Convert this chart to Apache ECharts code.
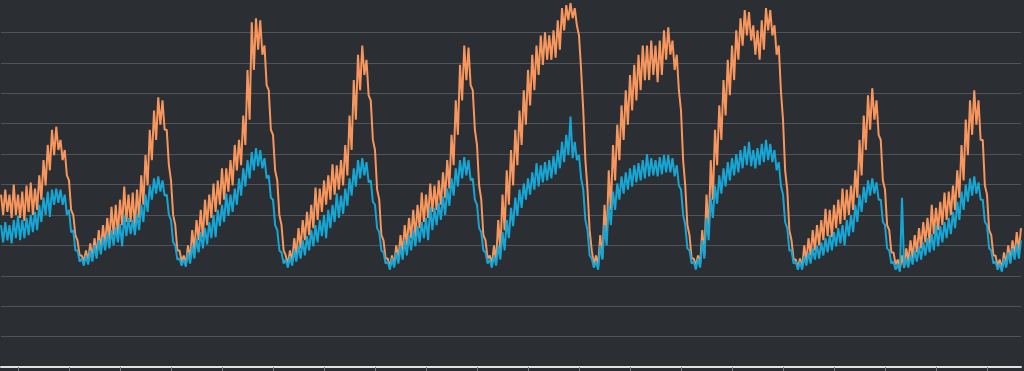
<!DOCTYPE html>
<html><head><meta charset="utf-8">
<script src="https://cdn.jsdelivr.net/npm/echarts@6/dist/echarts.min.js"></script>
<style>html,body{margin:0;padding:0;background:#2b2e33}#c{width:1024px;height:371px}</style>
</head><body><div id="c"></div>
<script>
// hourly high / low readings, 10 days starting 08:00 on day 1
const orangeHigh = [
170,175,170,180,170,173,179,182,176,189,
204,219,234,237,224,214,184,150,125,110,
115,122,127,135,140,147,158,160,165,178,
170,172,175,189,209,234,253,266,263,234,
184,140,115,110,120,135,145,155,165,170,
181,184,196,196,204,219,224,248,293,340,
344,342,317,273,229,184,140,110,115,127,
137,145,153,160,177,176,184,189,200,199,
204,219,248,283,308,317,303,263,214,165,
125,107,110,120,130,140,147,155,160,172,
170,181,179,184,192,204,229,263,298,317,
315,273,219,165,125,110,120,145,170,194,
214,234,253,273,293,308,317,327,330,327,
332,342,354,357,359,354,327,253,175,115,
110,130,160,194,219,239,258,273,288,298,
308,317,317,322,317,322,332,335,322,308,
253,179,130,107,110,135,170,204,234,258,
283,303,317,332,344,352,350,337,332,342,
354,352,337,317,244,175,125,106,107,120,
127,135,140,145,156,155,160,165,176,175,
179,194,224,248,268,275,263,224,175,135,
113,106,110,117,125,130,137,143,147,160,
157,163,172,173,179,194,219,244,263,273,
263,224,170,130,110,106,113,120,125,133,137
];
const orangeLow = [
150,153,147,150,147,144,153,150,155,165,
179,194,209,214,204,189,155,130,110,104,
104,107,110,115,120,125,130,130,140,143,
143,137,147,160,179,204,224,239,234,199,
150,115,104,101,106,115,125,128,140,147,
153,160,165,173,179,194,199,219,244,293,
313,308,278,234,194,150,115,101,104,110,
117,125,130,137,145,153,160,165,170,175,
179,189,214,244,273,288,268,224,175,130,
107,98,100,106,113,120,127,128,137,143,
147,153,155,160,167,176,199,229,263,283,
278,234,179,130,107,101,104,115,135,160,
179,199,219,239,258,273,288,298,303,303,
305,313,332,342,344,337,293,204,135,101,
100,107,125,155,184,204,224,239,253,263,
273,283,283,288,281,288,303,308,293,273,
204,140,107,100,101,110,130,165,199,224,
248,268,283,303,317,327,322,308,303,313,
332,327,308,273,194,135,106,98,98,104,
110,115,120,125,129,128,137,141,145,150,
155,167,189,214,234,244,229,184,140,113,
101,96,98,104,107,113,117,123,122,131,
135,140,145,150,155,167,184,209,229,239,
224,179,135,110,100,96,100,104,110,115,120
];
const blueHigh = [
140,143,140,145,149,145,147,150,153,160,
167,173,175,176,175,170,155,135,115,107,
110,115,120,125,128,132,135,138,141,150,
147,145,151,160,170,179,186,188,184,170,
145,120,107,106,113,120,127,133,137,143,
150,155,160,171,170,176,186,196,204,212,
216,214,206,189,165,135,113,106,109,115,
120,125,129,135,140,145,150,155,160,171,
169,176,186,196,204,206,202,184,160,133,
113,104,107,113,119,125,130,135,139,143,
147,158,157,162,168,176,186,196,204,207,
204,186,160,133,113,106,110,120,133,145,
157,167,175,181,186,192,201,199,202,204,
208,214,222,229,247,222,209,175,135,107,
104,120,140,160,173,181,188,192,196,199,
201,204,210,206,204,207,209,209,206,199,
175,140,115,104,107,125,147,167,179,189,
196,202,206,210,214,218,222,214,216,220,
224,220,214,202,170,137,115,104,104,109,
113,117,120,123,127,130,133,137,140,145,
150,160,170,178,184,186,182,165,140,115,
104,101,167,107,111,115,119,123,127,131,
140,139,143,147,153,163,173,180,186,188,
182,165,140,115,104,102,107,113,117,121,125
];
const blueLow = [
123,125,122,127,125,127,130,133,135,143,
150,148,160,162,160,150,133,115,104,100,
101,104,107,111,115,117,120,123,119,129,
131,130,135,143,153,165,171,173,169,150,
123,106,100,99,102,107,113,117,121,127,
128,139,143,149,153,160,169,178,186,194,
198,196,186,167,140,115,102,98,100,104,
107,110,115,119,123,129,127,137,143,147,
151,159,169,178,186,189,182,163,137,115,
102,96,98,102,106,110,115,119,123,127,
125,135,140,145,150,159,169,178,186,189,
184,165,137,115,102,98,100,106,115,127,
139,149,157,165,170,175,178,182,184,186,
190,196,202,209,206,204,186,145,110,98,
96,106,120,140,155,165,171,175,178,182,
184,186,188,189,188,190,192,192,188,179,
150,117,102,96,98,107,125,147,161,171,
178,184,189,192,196,199,198,196,199,202,
204,202,194,179,143,115,102,96,96,100,
102,106,107,110,113,115,119,122,120,129,
133,143,153,162,169,171,165,143,117,102,
96,94,98,98,101,104,106,110,113,115,
119,123,127,131,137,145,155,163,169,171,
165,143,117,102,96,94,98,102,106,107,111
];
const startHour = 8;
const tickHours = [4,16,28,40,52,64,76,88,100,112,124,136,148,160,172,184,196,208,220,232];

// half-hour category labels (the high reading sits on the hour, the low on the half hour)
const categories = [];
for (let i = 0; i < orangeHigh.length; i++) {
  const h = startHour + i;
  const lab = 'Day ' + (Math.floor(h / 24) + 1) + ' ' + String(h % 24).padStart(2, '0');
  categories.push(lab + ':00');
  if (i < orangeHigh.length - 1) categories.push(lab + ':30');
}
function interleave(high, low) {
  const out = [];
  high.forEach((v, i) => { out.push(v); if (i < high.length - 1) out.push(low[i]); });
  return out;
}
const tickIdx = tickHours.map(h => h * 2);

const chart = echarts.init(document.getElementById('c'), null, {renderer: 'canvas'});
chart.setOption({
  backgroundColor: '#2b2e33',
  animation: false,
  grid: {left: 1, right: 3, top: 2, bottom: 4, containLabel: false, outerBoundsMode: 'none'},
  xAxis: {
    type: 'category',
    data: categories,
    boundaryGap: false,
    axisLine: {show: true, lineStyle: {color: '#e2e2e2', width: 2}},
    axisTick: {show: true, length: 5, interval: (idx) => tickIdx.indexOf(idx) >= 0, lineStyle: {color: '#7a7c80', width: 1}},
    axisLabel: {show: false},
    splitLine: {show: false}
  },
  yAxis: {
    type: 'value',
    min: 0, max: 360, interval: 30,
    axisLine: {show: false},
    axisTick: {show: false},
    axisLabel: {show: false},
    splitLine: {show: true, showMaxLine: false, lineStyle: {color: '#505357', width: 1}}
  },
  series: [
    {type: 'line', name: 'A', data: interleave(orangeHigh, orangeLow), showSymbol: false, symbol: 'none',
     lineStyle: {color: '#f7965d', width: 2}, itemStyle: {color: '#f7965d'}},
    {type: 'line', name: 'B', data: interleave(blueHigh, blueLow), showSymbol: false, symbol: 'none',
     lineStyle: {color: '#17a6d4', width: 2}, itemStyle: {color: '#17a6d4'}}
  ]
});
</script>
</body></html>
